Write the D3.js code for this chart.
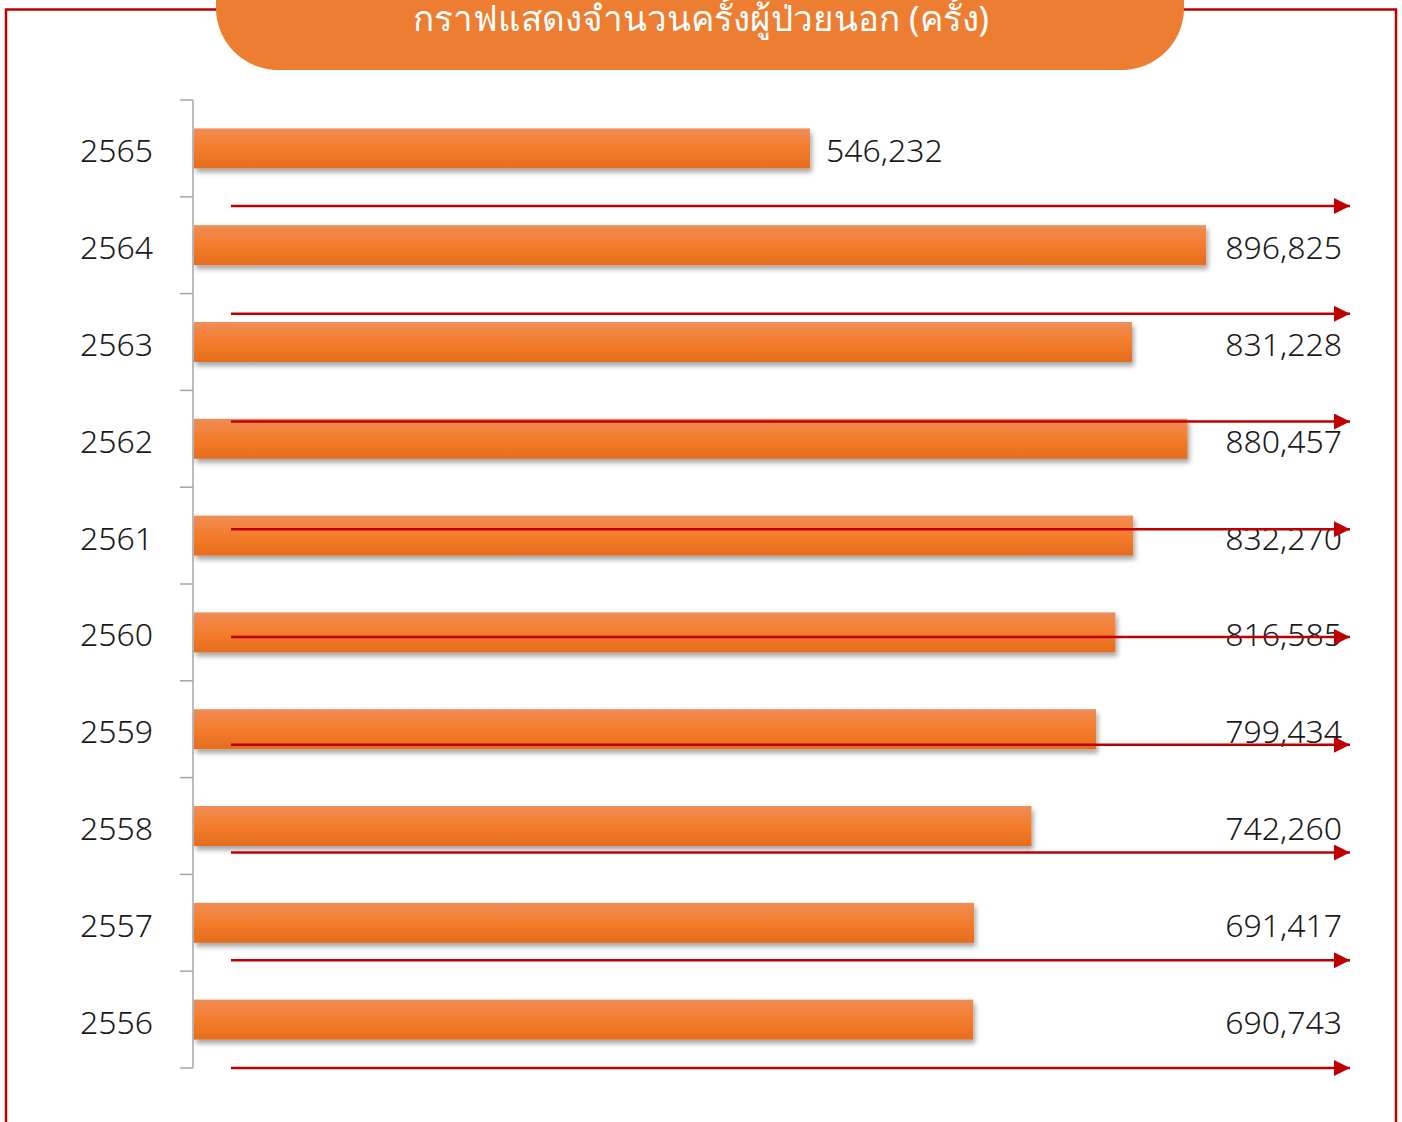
<!DOCTYPE html>
<html>
<head>
<meta charset="utf-8">
<script src="https://cdn.jsdelivr.net/npm/d3@7"></script>
<style>
  body { margin: 0; background: #fff; }
  svg text { font-family: "Noto Sans", "DejaVu Sans", sans-serif; }
</style>
</head>
<body>
<div id="chart"></div>
<script>
var years = ["2565", "2564", "2563", "2562", "2561", "2560", "2559", "2558", "2557", "2556"]
var visits = [546232, 896825, 831228, 880457, 832270, 816585, 799434, 742260, 691417, 690743]
var title = "กราฟแสดงจำนวนครั้งผู้ป่วยนอก (ครั้ง)"
// decorative red arrows between the rows (there are 9 of them)
var arrowRows = [0, 1, 2, 3, 4, 5, 6, 7, 8]

var W = 1402, H = 1122

var svg = d3.select("#chart")
    .append("svg")
    .attr("width", W)
    .attr("height", H)

var defs = svg.append("defs")

var grad = defs.append("linearGradient")
    .attr("id", "barGrad")
    .attr("x1", 0).attr("y1", 0).attr("x2", 0).attr("y2", 1)
grad.append("stop").attr("offset", "0%").attr("stop-color", "#f08d57")
grad.append("stop").attr("offset", "50%").attr("stop-color", "#f47c2c")
grad.append("stop").attr("offset", "100%").attr("stop-color", "#e56d1d")

var shadow = defs.append("filter")
    .attr("id", "shadow")
    .attr("x", "-5%").attr("y", "-20%").attr("width", "110%").attr("height", "160%")
shadow.append("feDropShadow")
    .attr("dx", 2).attr("dy", 4)
    .attr("stdDeviation", 2.5)
    .attr("flood-color", "#000")
    .attr("flood-opacity", 0.35)

defs.append("marker")
    .attr("id", "arrowHead")
    .attr("viewBox", "0 0 16 16")
    .attr("refX", 16).attr("refY", 8)
    .attr("markerWidth", 16).attr("markerHeight", 16)
    .attr("markerUnits", "userSpaceOnUse")
    .attr("orient", "auto")
    .append("path")
    .attr("d", "M0,0 L16,8 L0,16 Z")
    .attr("fill", "#c00000")

// outer red frame
svg.append("rect")
    .attr("x", 6).attr("y", 9.5)
    .attr("width", 1390).attr("height", H + 20)
    .attr("fill", "none")
    .attr("stroke", "#c00000")
    .attr("stroke-width", 2.5)

// title pill
svg.append("rect")
    .attr("x", 216).attr("y", -70)
    .attr("width", 968).attr("height", 140)
    .attr("rx", 62).attr("ry", 62)
    .attr("fill", "#ed7d31")

svg.append("text")
    .attr("x", 701)
    .attr("y", 31)
    .attr("text-anchor", "middle")
    .style("font-size", "35px")
    .style("fill", "#fff")
    .text(title)

// scales
var x0 = 193
var x = d3.scaleLinear()
    .domain([0, 1000000])
    .range([x0, x0 + 1129.6])

var y = d3.scaleBand()
    .domain(years)
    .range([100, 1068])
    .paddingInner(0.587)
    .paddingOuter(0.2935)

// y axis: ticks sit on the category boundaries
var g = svg.append("g")
g.append("line")
    .attr("x1", x0).attr("x2", x0)
    .attr("y1", y.range()[0]).attr("y2", y.range()[1])
    .attr("stroke", "#a6a6a6").attr("stroke-width", 1.5)

var bounds = d3.range(years.length + 1).map(i => y.range()[0] + i * y.step())
g.selectAll("line.tick")
    .data(bounds)
    .join("line")
    .attr("class", "tick")
    .attr("x1", x0 - 13).attr("x2", x0)
    .attr("y1", d => d).attr("y2", d => d)
    .attr("stroke", "#a6a6a6").attr("stroke-width", 1.5)

g.selectAll("text.ylab")
    .data(years)
    .join("text")
    .attr("class", "ylab")
    .attr("x", x0 - 40)
    .attr("y", d => y(d) + y.bandwidth() / 2)
    .attr("dy", "0.44em")
    .attr("text-anchor", "end")
    .style("font-size", "32px")
    .style("font-weight", 300)
    .style("fill", "#1a1a1a")
    .text(d => d)

// bars
var data = years.map((yr, i) => ({ year: yr, value: visits[i] }))

svg.selectAll("rect.bar")
    .data(data)
    .join("rect")
    .attr("class", "bar")
    .attr("x", x0 + 1)
    .attr("y", d => y(d.year))
    .attr("width", d => x(d.value) - x0 - 1)
    .attr("height", y.bandwidth())
    .attr("fill", "url(#barGrad)")
    .attr("filter", "url(#shadow)")

// value labels: after the short bar, right aligned for the long ones
var fmt = d3.format(",")
var labelRight = 1342
var outside = d => x(d.value) < 900
svg.selectAll("text.val")
    .data(data)
    .join("text")
    .attr("class", "val")
    .attr("x", d => outside(d) ? x(d.value) + 16 : labelRight)
    .attr("y", d => y(d.year) + y.bandwidth() / 2)
    .attr("dy", "0.44em")
    .attr("text-anchor", d => outside(d) ? "start" : "end")
    .style("font-size", "32px")
    .style("font-weight", 300)
    .style("fill", "#1a1a1a")
    .text(d => fmt(d.value))

// red arrows on top
var arrowY = d3.scaleLinear().domain([0, 8]).range([206, 1068])
svg.selectAll("line.arrow")
    .data(arrowRows)
    .join("line")
    .attr("class", "arrow")
    .attr("x1", 231).attr("x2", 1350)
    .attr("y1", d => arrowY(d)).attr("y2", d => arrowY(d))
    .attr("stroke", "#c00000")
    .attr("stroke-width", 2.5)
    .attr("marker-end", "url(#arrowHead)")
</script>
</body>
</html>
